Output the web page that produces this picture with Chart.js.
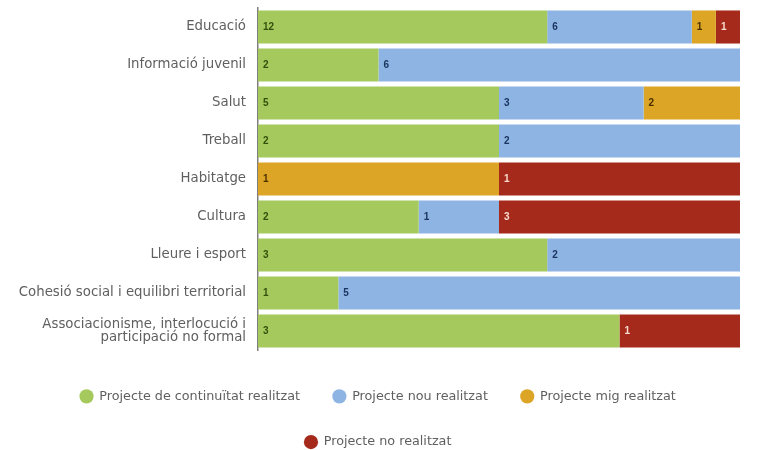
<!DOCTYPE html>
<html>
<head>
<meta charset="utf-8">
<script src="https://cdn.jsdelivr.net/npm/chart.js@4/dist/chart.umd.min.js"></script>
<style>
html,body{margin:0;padding:0;background:#fff;}
#wrap{width:765px;height:450px;}
</style>
</head>
<body>
<div id="wrap"><canvas id="c" width="765" height="450"></canvas></div>
<script>
const categories = [
  'Educació',
  'Informació juvenil',
  'Salut',
  'Treball',
  'Habitatge',
  'Cultura',
  'Lleure i esport',
  'Cohesió social i equilibri territorial',
  ['Associacionisme, interlocució i', 'participació no formal']
];
const seriesNames = [
  'Projecte de continuïtat realitzat',
  'Projecte nou realitzat',
  'Projecte mig realitzat',
  'Projecte no realitzat'
];
const continuitat = [12, 2, 5, 2, 0, 2, 3, 1, 3];
const nou         = [6, 6, 3, 2, 0, 1, 2, 5, 0];
const mig         = [1, 0, 2, 0, 1, 0, 0, 0, 0];
const noRealitzat = [1, 0, 0, 0, 1, 3, 0, 0, 1];

const colors = ['#a5c95c', '#8db4e2', '#dca526', '#a52a1b'];
const labelColors = ['#34500c', '#1b3560', '#4a3000', '#f6dccf'];

const rawSeries = [continuitat, nou, mig, noRealitzat];
const totals = categories.map((_, i) => rawSeries.reduce((s, arr) => s + arr[i], 0));

const datasets = rawSeries.map((arr, k) => ({
  label: seriesNames[k],
  data: arr.map((v, i) => v / totals[i]),
  raw: arr,
  backgroundColor: colors[k],
  borderWidth: 0,
  barPercentage: 0.87,
  categoryPercentage: 1.0
}));

const valueLabels = {
  id: 'valueLabels',
  afterDatasetsDraw(chart) {
    const ctx = chart.ctx;
    ctx.save();
    ctx.font = 'bold 10px "Liberation Sans", Arial, sans-serif';
    ctx.textBaseline = 'middle';
    ctx.textAlign = 'left';
    chart.data.datasets.forEach((ds, k) => {
      const meta = chart.getDatasetMeta(k);
      meta.data.forEach((el, i) => {
        const v = ds.raw[i];
        if (!v) return;
        const left = Math.min(el.x, el.base);
        ctx.fillStyle = labelColors[k];
        ctx.fillText(String(v), left + 5, el.y);
      });
    });
    ctx.restore();
  }
};

// wrap the legend into rows like the reference (3 items + 1)
const legendWrap = {
  id: 'legendWrap',
  afterInit(chart) {
    const lg = chart.legend;
    if (!lg || lg._wrapped) return;
    lg._wrapped = true;
    const origFit = lg.fit;
    lg.fit = function () {
      const mw = this.maxWidth;
      this.maxWidth = 680;
      origFit.call(this);
      this.maxWidth = mw;
      this.width = mw;
      this.height = 93;
    };
  }
};

new Chart(document.getElementById('c'), {
  type: 'bar',
  data: { labels: categories, datasets },
  options: {
    indexAxis: 'y',
    responsive: false,
    animation: false,
    devicePixelRatio: 1,
    layout: { autoPadding: false, padding: { left: 16, right: 25, top: 8, bottom: 0 } },
    scales: {
      x: {
        stacked: true,
        min: 0,
        max: 1,
        display: true,
        grid: { display: false },
        border: { display: false },
        ticks: { display: false },
        afterFit(s) { s.height = 7; s.paddingLeft = 0; s.paddingRight = 0; }
      },
      y: {
        stacked: true,
        grid: { display: false, drawTicks: false },
        border: { display: true, color: '#7f7f7f', width: 1.5 },
        ticks: {
          color: '#5f5f5f',
          padding: 12,
          font: { family: '"DejaVu Sans", sans-serif', size: 13.3, lineHeight: 0.95 }
        },
        afterFit(s) { s.width = 242; s.paddingTop = 0; s.paddingBottom = 0; }
      }
    },
    plugins: {
      tooltip: { enabled: false },
      legend: {
        position: 'bottom',
        labels: {
          usePointStyle: true,
          pointStyle: 'circle',
          boxWidth: 13,
          boxHeight: 10,
          padding: 33,
          color: '#5f5f5f',
          font: { family: '"DejaVu Sans", sans-serif', size: 12.75 }
        }
      }
    }
  },
  plugins: [valueLabels, legendWrap]
});
</script>
</body>
</html>
